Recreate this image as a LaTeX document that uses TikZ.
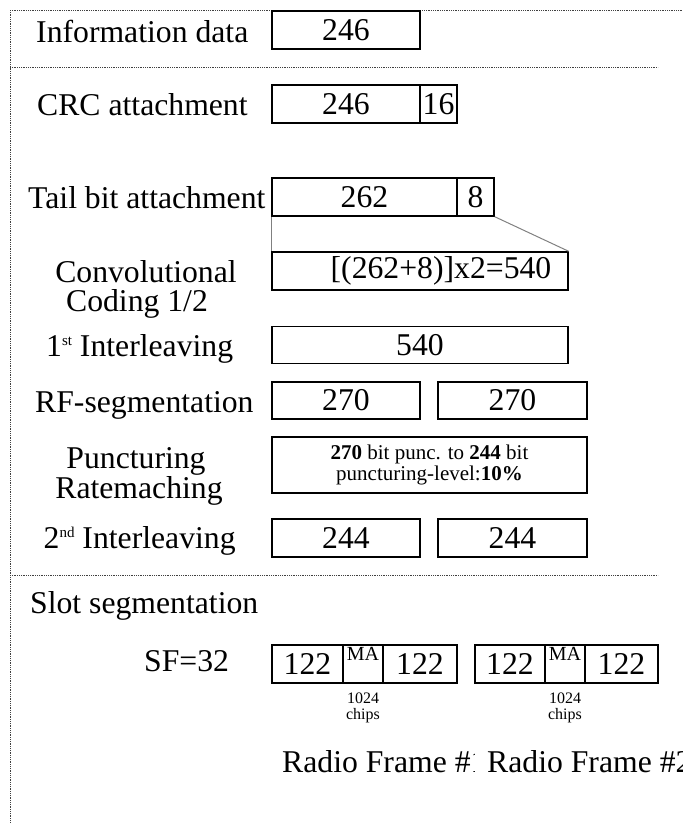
\documentclass[tikz,border=0pt]{standalone}
\usepackage{fontspec}
\setmainfont{Liberation Serif}
\newcommand\fbig{\fontsize{31.7}{34}\selectfont}
\newcommand\fmid{\fontsize{21}{21}\selectfont}
\newcommand\fma{\fontsize{20}{20}\selectfont}
\newcommand\ftiny{\fontsize{16}{16}\selectfont}
\newcommand\supsc[1]{\raisebox{11pt}{\fontsize{15}{15}\selectfont #1}}
\begin{document}
\begin{tikzpicture}[x=1pt,y=-1pt,
  box/.style={draw, line width=1.4pt, inner sep=0pt, font=\fbig},
  lab/.style={inner sep=0pt, font=\fbig},
  sep/.style={densely dotted, line width=0.8pt, black!75},
  grayline/.style={draw=black!50, line width=1pt},
  small/.style={inner sep=0pt, font=\ftiny}]
\useasboundingbox (0,0) rectangle (683,823);
\clip (0,0) rectangle (683,823);
% separators
\coordinate (tl) at (10,10); \coordinate (tr) at (683,10); \coordinate (bl) at (10,823);
\coordinate (s1a) at (10,67); \coordinate (s1b) at (658,67);
\coordinate (s2a) at (10,575); \coordinate (s2b) at (658,575);
\draw[sep] (tl) -- (tr);
\draw[sep] (tl) -- (bl);
\draw[sep] (s1a) -- (s1b);
\draw[sep] (s2a) -- (s2b);
% boxes
\node[box, minimum width=148pt, minimum height=38pt] (info) at (346,30) {246};
\node[box, minimum width=148pt, minimum height=38pt] (crc1) at (346,104) {246};
\node[box, minimum width=37pt, minimum height=38pt] (crc2) at (438.5,104) {16};
\node[box, minimum width=185pt, minimum height=38pt] (tail1) at (364.5,197) {262};
\node[box, minimum width=37pt, minimum height=38pt] (tail2) at (475.5,197) {8};
\node[box, minimum width=296pt, minimum height=38pt] (conv) at (420,271) {};
\node[lab] (convtxt) at (441,271) {[(262+8)]x2=540};
\node[box, minimum width=296pt, minimum height=37pt] (il1) at (420,345) {540};
\node[box, minimum width=148pt, minimum height=37pt] (rf1) at (346,400.5) {270};
\node[box, minimum width=149pt, minimum height=37pt] (rf2) at (512.5,400.5) {270};
\node[box, minimum width=315pt, minimum height=56pt, font=\fmid, align=center] (punc) at (429.5,465)
  {\textbf{270} bit punc. to \textbf{244} bit\\puncturing-level:\textbf{10\%}};
\node[box, minimum width=148pt, minimum height=38pt] (il2a) at (346,538) {244};
\node[box, minimum width=149pt, minimum height=38pt] (il2b) at (512.5,538) {244};
% slots
\node[box, minimum width=71pt, minimum height=38pt] (sa1) at (307.5,664) {122};
\node[box, minimum width=40pt, minimum height=38pt] (sm1) at (363,664) {};
\node[box, minimum width=74pt, minimum height=38pt] (sb1) at (420,664) {122};
\node[box, minimum width=70pt, minimum height=38pt] (sa2) at (510,664) {122};
\node[box, minimum width=40pt, minimum height=38pt] (sm2) at (565,664) {};
\node[box, minimum width=73pt, minimum height=38pt] (sb2) at (621.5,664) {122};
\node[inner sep=0pt, font=\fma, anchor=base] (ma1) at (363,660) {MA};
\node[inner sep=0pt, font=\fma, anchor=base] (ma2) at (565,660) {MA};
\node[small, anchor=base] (n1) at (363,703) {1024};
\node[small, anchor=base] (c1) at (363,719) {chips};
\node[small, anchor=base] (n2) at (565,703) {1024};
\node[small, anchor=base] (c2) at (565,719) {chips};
% gray lines
\draw[grayline] (tail1.south west) -- (conv.north west);
\draw[grayline] (tail2.south east) -- (conv.north east);
% labels
\node[lab, anchor=base west] (lInfo) at (36,42) {Information data};
\node[lab, anchor=base west] (lCrc) at (37,115) {CRC attachment};
\node[lab, anchor=base west] (lTail) at (28,208) {Tail bit attachment};
\node[lab, anchor=base] (lConv1) at (146,282) {Convolutional};
\node[lab, anchor=base] (lConv2) at (137,311) {Coding 1/2};
\node[lab, anchor=base west] (lIl1) at (46,356) {1\supsc{st} Interleaving};
\node[lab, anchor=base west] (lRf) at (35,412) {RF-segmentation};
\node[lab, anchor=base] (lPunc1) at (136,468) {Puncturing};
\node[lab, anchor=base] (lPunc2) at (139,498) {Ratemaching};
\node[lab, anchor=base west] (lIl2) at (43.5,548) {2\supsc{nd} Interleaving};
\node[lab, anchor=base west] (lSlot) at (30,613) {Slot segmentation};
\node[lab, anchor=base west] (lSf) at (144,671) {SF=32};
\begin{scope}
\clip (0,740) rectangle (474,800);
\node[lab, anchor=base west] (rfr1) at (282,772) {Radio Frame \#1};
\end{scope}
\node[lab, anchor=base west] (rfr2) at (487,772) {Radio Frame \#2};
\end{tikzpicture}
\end{document}
